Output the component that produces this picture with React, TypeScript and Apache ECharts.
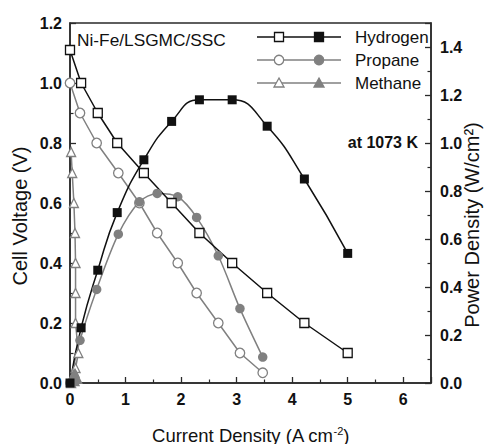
import React, { useEffect, useRef } from "react";
import * as echarts from "echarts";

// Current density (A cm^-2), cell voltage (V), power density (W/cm^2)
const hydrogenI = [0, 0.2, 0.5, 0.85, 1.33, 1.83, 2.33, 2.92, 3.55, 4.22, 5.0];
const hydrogenV = [1.11, 1.0, 0.9, 0.8, 0.7, 0.6, 0.5, 0.4, 0.3, 0.2, 0.1];
const hydrogenP = [0, 0.23, 0.47, 0.71, 0.93, 1.09, 1.18, 1.18, 1.07, 0.85, 0.54];

const propaneI = [0, 0.18, 0.48, 0.87, 1.25, 1.57, 1.94, 2.28, 2.67, 3.06, 3.47];
const propaneV = [1.0, 0.9, 0.8, 0.7, 0.6, 0.5, 0.4, 0.3, 0.2, 0.1, 0.034];
const propaneP = [0, 0.178, 0.39, 0.62, 0.755, 0.79, 0.776, 0.69, 0.53, 0.31, 0.108];

const methaneI = [0.02, 0.04, 0.07, 0.09, 0.1, 0.1, 0.1, 0.15, 0.1, 0.02];
const methaneV = [0.77, 0.7, 0.6, 0.5, 0.4, 0.3, 0.2, 0.1, 0.05, 0.0];
const methaneP = [0.015, 0.028, 0.042, 0.045, 0.04, 0.03, 0.02, 0.015, 0.005, 0];

const xTicks = [0, 1, 2, 3, 4, 5, 6];
const legendNames = ["Hydrogen", "Propane", "Methane"];

const FONT = "'Liberation Sans', Arial, Helvetica, sans-serif";
const AX = "#2a2a2a";
const BLACK = "#111";
const GRAY = "#808080";

const pairs = (xs: number[], ys: number[]) => xs.map((x, i) => [x, ys[i]]);

export default function App() {
  const ref = useRef<HTMLDivElement>(null);
  useEffect(() => {
    document.body.style.margin = "0";
    const chart = echarts.init(ref.current!, undefined, { renderer: "svg" });

    const lineSeries = (
      name: string,
      data: number[][],
      yAxisIndex: number,
      symbol: string,
      color: string,
      hollow: boolean,
      smooth: number | boolean,
      size = 9
    ) => ({
      name,
      type: "line",
      data,
      yAxisIndex,
      symbol,
      symbolSize: size,
      smooth,
      showSymbol: true,
      lineStyle: { color, width: 1.5 },
      itemStyle: hollow
        ? { color: "#fff", borderColor: color, borderWidth: 1.3 }
        : { color, borderColor: color, borderWidth: 0 },
      z: 3,
    });

    const legendRowsY = [37, 60, 83];
    const legendSymbols = ["square", "circle", "triangle"];
    const legendColors = [BLACK, GRAY, GRAY];
    const graphicEls: any[] = [];
    legendNames.forEach((nm, i) => {
      const y = legendRowsY[i];
      const c = legendColors[i];
      graphicEls.push({
        type: "line",
        shape: { x1: 257, y1: y, x2: 341, y2: y },
        style: { stroke: c, lineWidth: 1.5 },
        z: 10,
      });
      [279, 319].forEach((cx, k) => {
        const fill = k === 0 ? "#fff" : c;
        const sym = legendSymbols[i];
        if (sym === "square") {
          graphicEls.push({
            type: "rect",
            shape: { x: cx - 4.5, y: y - 4.5, width: 9, height: 9 },
            style: { fill, stroke: c, lineWidth: 1.3 },
            z: 11,
          });
        } else if (sym === "circle") {
          graphicEls.push({
            type: "circle",
            shape: { cx, cy: y, r: 4.7 },
            style: { fill, stroke: c, lineWidth: 1.3 },
            z: 11,
          });
        } else {
          graphicEls.push({
            type: "polygon",
            shape: { points: [[cx, y - 5], [cx + 5, y + 4], [cx - 5, y + 4]] },
            style: { fill, stroke: c, lineWidth: 1.3 },
            z: 11,
          });
        }
      });
      graphicEls.push({
        type: "text",
        x: 355,
        y,
        style: { text: nm, fill: BLACK, font: `17px ${FONT}`, textVerticalAlign: "middle" },
        z: 11,
      });
    });
    graphicEls.push({
      type: "text",
      x: 77,
      y: 40,
      style: { text: "Ni-Fe/LSGMC/SSC", fill: BLACK, font: `17.3px ${FONT}`, textVerticalAlign: "middle" },
      z: 11,
    });
    graphicEls.push({
      type: "text",
      x: 418,
      y: 142,
      style: {
        text: "at 1073 K",
        fill: BLACK,
        font: `bold 16px ${FONT}`,
        textAlign: "right",
        textVerticalAlign: "middle",
      },
      z: 11,
    });

    const yAxisCommon = {
      type: "value",
      min: 0,
      interval: 0.2,
      nameLocation: "middle",
      nameRotate: 90,
      nameMoveOverlap: false,
      axisLine: { show: true, lineStyle: { color: AX, width: 1.5 } },
      axisTick: { show: true, inside: true, length: 6, lineStyle: { color: AX, width: 1.3 } },
      minorTick: { show: true, splitNumber: 2, length: 3.5, lineStyle: { color: AX, width: 1.2 } },
      splitLine: { show: false },
      minorSplitLine: { show: false },
    };

    const option: any = {
      animation: false,
      backgroundColor: "#fff",
      textStyle: { fontFamily: FONT },
      grid: {
        left: 70,
        right: 53,
        top: 23,
        bottom: 61,
        outerBoundsMode: "none",
        containLabel: false,
        show: true,
        borderColor: AX,
        borderWidth: 1.5,
        backgroundColor: "transparent",
      },
      xAxis: {
        type: "value",
        min: 0,
        max: 6.5,
        interval: 1,
        name: "{a|Current Density (A cm}{s|-2}{a|)}",
        nameLocation: "middle",
        nameGap: 42,
        nameMoveOverlap: false,
        nameTextStyle: {
          rich: {
            a: { fontSize: 18.5, fontFamily: FONT, color: BLACK, lineHeight: 20 },
            s: { fontSize: 11, fontFamily: FONT, color: BLACK, verticalAlign: "top", lineHeight: 20 },
          },
        },
        axisLine: { show: true, onZero: false, lineStyle: { color: AX, width: 1.5 } },
        axisTick: { show: true, inside: true, length: 6, lineStyle: { color: AX, width: 1.3 } },
        minorTick: { show: true, splitNumber: 2, length: 3.5, lineStyle: { color: AX, width: 1.2 } },
        splitLine: { show: false },
        minorSplitLine: { show: false },
        axisLabel: {
          margin: 8,
          color: BLACK,
          fontSize: 16,
          fontWeight: "bold",
          fontFamily: FONT,
          showMaxLabel: false,
          formatter: (v: number) => (xTicks.includes(v) ? String(v) : ""),
        },
      },
      yAxis: [
        {
          ...yAxisCommon,
          max: 1.2,
          position: "left",
          name: "Cell Voltage (V)",
          nameGap: 40,
          nameTextStyle: { fontSize: 20, fontFamily: FONT, color: BLACK, padding: [0, 26, 0, 0] },
          axisLabel: {
            margin: 8,
            color: BLACK,
            fontSize: 16,
            fontWeight: "bold",
            fontFamily: FONT,
            formatter: (v: number) => v.toFixed(1),
          },
        },
        {
          ...yAxisCommon,
          max: 1.5,
          position: "right",
          name: "Power Density (W/cm²)",
          nameGap: 31,
          nameTextStyle: { fontSize: 20, fontFamily: FONT, color: BLACK, padding: [0, 44, 0, 0] },
          axisLabel: {
            margin: 9,
            color: BLACK,
            fontSize: 16,
            fontWeight: "bold",
            fontFamily: FONT,
            showMaxLabel: false,
            formatter: (v: number) => v.toFixed(1),
          },
        },
      ],
      series: [
        lineSeries("Methane V", pairs(methaneI, methaneV), 0, "triangle", GRAY, true, false, 9),
        lineSeries("Methane P", pairs(methaneI, methaneP), 1, "triangle", GRAY, false, false, 9),
        lineSeries("Propane V", pairs(propaneI, propaneV), 0, "circle", GRAY, true, false, 9.5),
        lineSeries("Propane P", pairs(propaneI, propaneP), 1, "circle", GRAY, false, 0.3, 9.5),
        lineSeries("Hydrogen V", pairs(hydrogenI, hydrogenV), 0, "rect", BLACK, true, false, 9),
        lineSeries("Hydrogen P", pairs(hydrogenI, hydrogenP), 1, "rect", BLACK, false, 0.5, 9),
      ],
      graphic: graphicEls,
    };
    chart.setOption(option);
    return () => chart.dispose();
  }, []);
  return <div ref={ref} style={{ width: 484, height: 444 }} />;
}
